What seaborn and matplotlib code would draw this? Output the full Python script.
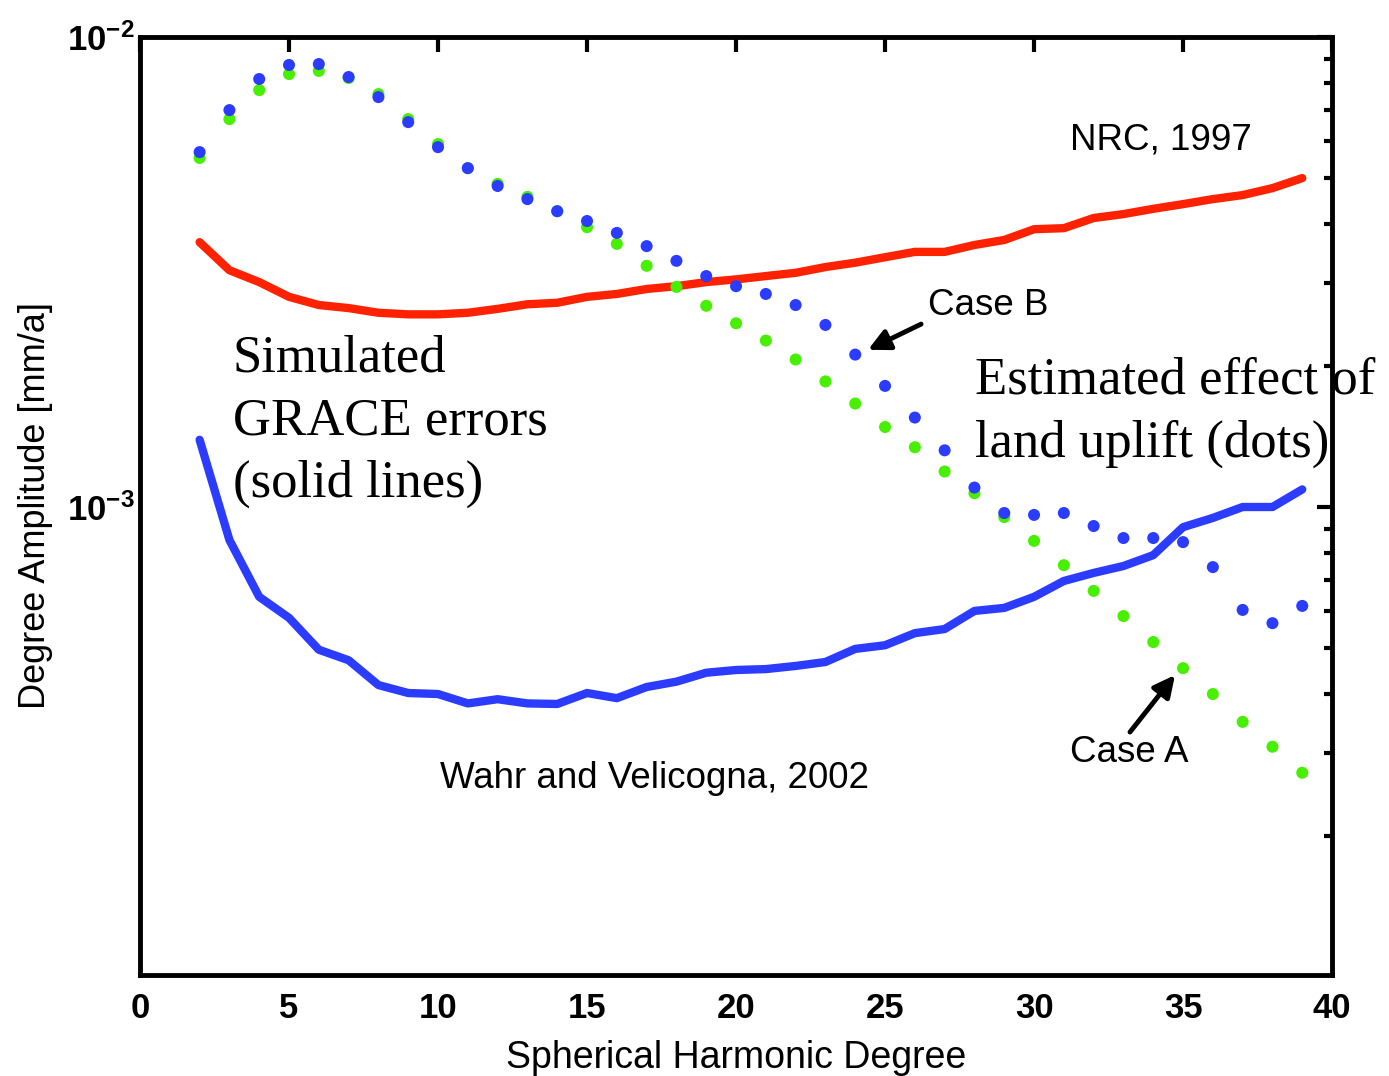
#!/usr/bin/env python3
import matplotlib
matplotlib.use("Agg")
import seaborn as sns
sns.set_style('white')
import pandas as pd
import matplotlib.pyplot as plt
from matplotlib.ticker import LogLocator, NullFormatter, FixedLocator, FixedFormatter

plt.rcParams['font.family'] = ['Liberation Sans', 'DejaVu Sans']
plt.rcParams['mathtext.fontset'] = 'custom'
plt.rcParams['mathtext.rm'] = 'Liberation Sans'
plt.rcParams['mathtext.bf'] = 'Liberation Sans:bold'
for key in ['text.color', 'axes.labelcolor', 'xtick.color', 'ytick.color', 'axes.edgecolor']:
    plt.rcParams[key] = 'black'

# spherical harmonic degree
degrees = list(range(2, 40))

# simulated GRACE errors (solid lines)
nrc_1997 = [3.66e-3, 3.19e-3, 3.01e-3, 2.80e-3, 2.69e-3, 2.65e-3, 2.59e-3, 2.57e-3,
            2.57e-3, 2.59e-3, 2.64e-3, 2.70e-3, 2.72e-3, 2.80e-3, 2.84e-3, 2.91e-3,
            2.95e-3, 3.01e-3, 3.05e-3, 3.10e-3, 3.15e-3, 3.24e-3, 3.31e-3, 3.40e-3,
            3.49e-3, 3.49e-3, 3.61e-3, 3.70e-3, 3.90e-3, 3.92e-3, 4.12e-3, 4.20e-3,
            4.31e-3, 4.41e-3, 4.52e-3, 4.61e-3, 4.77e-3, 5.01e-3]
wahr_2002 = [1.39e-3, 8.51e-4, 6.44e-4, 5.81e-4, 4.97e-4, 4.72e-4, 4.18e-4, 4.02e-4,
             4.00e-4, 3.82e-4, 3.90e-4, 3.82e-4, 3.81e-4, 4.02e-4, 3.92e-4, 4.14e-4,
             4.25e-4, 4.44e-4, 4.50e-4, 4.52e-4, 4.59e-4, 4.68e-4, 4.99e-4, 5.08e-4,
             5.39e-4, 5.50e-4, 6.01e-4, 6.10e-4, 6.44e-4, 6.96e-4, 7.24e-4, 7.49e-4,
             7.90e-4, 9.06e-4, 9.48e-4, 1.00e-3, 1.00e-3, 1.09e-3]

# estimated effect of land uplift (dots)
case_a = [5.53e-3, 6.69e-3, 7.71e-3, 8.34e-3, 8.47e-3, 8.18e-3, 7.56e-3, 6.69e-3,
          5.92e-3, 5.26e-3, 4.87e-3, 4.57e-3, 4.26e-3, 3.94e-3, 3.63e-3, 3.26e-3,
          2.94e-3, 2.68e-3, 2.46e-3, 2.26e-3, 2.06e-3, 1.85e-3, 1.66e-3, 1.48e-3,
          1.34e-3, 1.19e-3, 1.07e-3, 9.52e-4, 8.47e-4, 7.52e-4, 6.63e-4, 5.86e-4,
          5.16e-4, 4.54e-4, 4.00e-4, 3.49e-4, 3.09e-4, 2.72e-4]
case_b = [5.69e-3, 6.99e-3, 8.14e-3, 8.72e-3, 8.76e-3, 8.22e-3, 7.45e-3, 6.59e-3,
          5.83e-3, 5.26e-3, 4.82e-3, 4.52e-3, 4.26e-3, 4.06e-3, 3.83e-3, 3.59e-3,
          3.34e-3, 3.10e-3, 2.95e-3, 2.84e-3, 2.69e-3, 2.44e-3, 2.11e-3, 1.81e-3,
          1.55e-3, 1.32e-3, 1.10e-3, 9.71e-4, 9.62e-4, 9.71e-4, 9.11e-4, 8.59e-4,
          8.59e-4, 8.42e-4, 7.45e-4, 6.04e-4, 5.66e-4, 6.16e-4]

xticks = [0, 5, 10, 15, 20, 25, 30, 35, 40]
yticks = [1e-3, 1e-2]
ytick_labels = [r'$\mathbf{10^{-3}}$', r'$\mathbf{10^{-2}}$']

RED = '#ff2200'
BLUE = '#2b3cff'
GREEN = '#46f000'

df_lines = pd.concat([
    pd.DataFrame({'degree': degrees, 'amplitude': nrc_1997, 'series': 'NRC, 1997'}),
    pd.DataFrame({'degree': degrees, 'amplitude': wahr_2002, 'series': 'Wahr and Velicogna, 2002'}),
])
df_dots = pd.concat([
    pd.DataFrame({'degree': degrees, 'amplitude': case_a, 'case': 'Case A'}),
    pd.DataFrame({'degree': degrees, 'amplitude': case_b, 'case': 'Case B'}),
])

fig = plt.figure(figsize=(13.89, 10.76), dpi=100)
ax = fig.add_axes([0.1008, 0.0939, 0.8582, 0.8717])

sns.lineplot(data=df_lines, x='degree', y='amplitude', hue='series',
             palette={'NRC, 1997': RED, 'Wahr and Velicogna, 2002': BLUE},
             linewidth=6, legend=False, ax=ax, zorder=2)
sns.scatterplot(data=df_dots, x='degree', y='amplitude', hue='case',
                palette={'Case A': GREEN, 'Case B': BLUE},
                s=75, edgecolor='none', legend=False, ax=ax, zorder=3)

ax.set_yscale('log')
ax.set_xlim(0, 40)
ax.set_ylim(1.01e-4, 1e-2)

ax.xaxis.set_major_locator(FixedLocator(xticks))
ax.set_xticklabels([str(t) for t in xticks], fontweight='bold', fontsize=25)
ax.yaxis.set_major_locator(FixedLocator(yticks))
ax.yaxis.set_major_formatter(FixedFormatter(ytick_labels))
ax.yaxis.set_minor_locator(LogLocator(base=10, subs=range(2, 10)))
ax.yaxis.set_minor_formatter(NullFormatter())
for lbl in ax.get_yticklabels():
    lbl.set_fontsize(25)

ax.tick_params(which='both', direction='in', top=True, right=True, width=3, color='black')
ax.tick_params(which='major', length=11)
ax.tick_params(axis='x', which='major', pad=12)
ax.tick_params(axis='y', which='major', pad=4)
ax.tick_params(which='minor', length=6)
for spine in ax.spines.values():
    spine.set_linewidth(3.5)
    spine.set_color('black')

ax.set_xlabel('Spherical Harmonic Degree', fontsize=27, labelpad=11)
ax.set_ylabel('Degree Amplitude [mm/a]', fontsize=26, labelpad=10)

# labels on the curves
ax.text(31.2, 6.04e-3, 'NRC, 1997', fontsize=26.5, va='center', ha='left')
ax.text(10.07, 2.65e-4, 'Wahr and Velicogna, 2002', fontsize=26.5, va='center', ha='left')
ax.text(26.44, 2.69e-3, 'Case B', fontsize=26.5, va='center', ha='left')
ax.text(31.2, 3.01e-4, 'Case A', fontsize=26.5, va='center', ha='left')

serif = ['Liberation Serif', 'DejaVu Serif']
ax.text(3.12, 1.52e-3, 'Simulated\nGRACE errors\n(solid lines)', fontsize=38,
        family=serif, va='center', ha='left', linespacing=1.4)
ax.text(28.02, 1.59e-3, 'Estimated effect of\nland uplift (dots)', fontsize=38,
        family=serif, va='center', ha='left', linespacing=1.4)

arrow = dict(arrowstyle='-|>', lw=3.5, color='black', mutation_scale=32, shrinkA=0, shrinkB=0)
ax.annotate('', xy=(24.43, 2.16e-3), xytext=(26.21, 2.45e-3), arrowprops=arrow)
ax.annotate('', xy=(34.73, 4.39e-4), xytext=(33.22, 3.32e-4), arrowprops=arrow)

fig.savefig('out.png', dpi=100)
